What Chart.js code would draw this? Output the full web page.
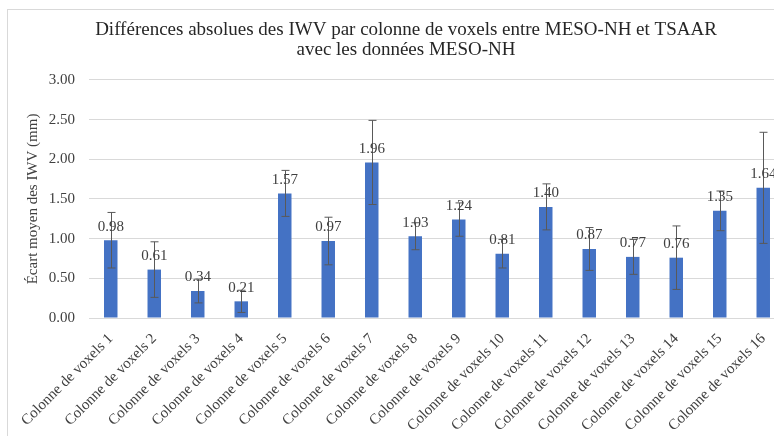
<!DOCTYPE html>
<html>
<head>
<meta charset="utf-8">
<script src="https://cdn.jsdelivr.net/npm/chart.js@4.4.0/dist/chart.umd.min.js"></script>
<style>
  html, body { margin: 0; padding: 0; background: #fff; overflow: hidden; width: 774px; height: 436px; }
  #frame { position: absolute; left: 7px; top: 9px; border: 1px solid #d9d9d9; width: 796px; height: 440px; }
  canvas { display: block; }
</style>
</head>
<body>
<div id="frame"><canvas id="ecart" width="796" height="430"></canvas></div>
<script>
let colonnes = [];
for (let i = 1; i <= 16; i++) {
    colonnes.push('Colonne de voxels ' + i);
}

// écart moyen par colonne (mm) et demi-largeur des barres d'erreur
var ecarts = [0.98, 0.61, 0.34, 0.21, 1.57, 0.97, 1.96, 1.03, 1.24, 0.81, 1.40, 0.87, 0.77, 0.76, 1.35, 1.64];
var erreurs = [0.35, 0.35, 0.15, 0.14, 0.29, 0.30, 0.53, 0.17, 0.21, 0.18, 0.29, 0.27, 0.22, 0.40, 0.25, 0.70];

var yTicks = [0, 0.5, 1, 1.5, 2, 2.5, 3];

var serif = "'Liberation Serif', 'Times New Roman', serif";

// barres d'erreur + étiquettes de valeur
const barExtras = {
    id: 'barExtras',
    afterDatasetsDraw(chart) {
        const c = chart.ctx;
        const y = chart.scales.y;
        const bars = chart.getDatasetMeta(0).data;
        c.save();
        c.strokeStyle = '#595959';
        c.lineWidth = 1;
        bars.forEach((bar, i) => {
            let x = Math.round(bar.x) + 0.5;
            let top = y.getPixelForValue(ecarts[i] + erreurs[i]);
            let bot = y.getPixelForValue(ecarts[i] - erreurs[i]);
            c.beginPath();
            c.moveTo(x, top); c.lineTo(x, bot);
            c.moveTo(x - 4, top); c.lineTo(x + 4, top);
            c.moveTo(x - 4, bot); c.lineTo(x + 4, bot);
            c.stroke();
        });
        c.fillStyle = '#404040';
        c.font = '15px ' + serif;
        c.textAlign = 'center';
        c.textBaseline = 'bottom';
        bars.forEach((bar, i) => {
            c.fillText(ecarts[i].toFixed(2), bar.x, bar.y - 6);
        });
        c.restore();
    }
};

var ctx = document.getElementById('ecart');
var chart = new Chart(ctx, {
    type: 'bar',
    data: {
        labels: colonnes,
        datasets: [{
            data: ecarts,
            backgroundColor: '#4472c4',
            borderWidth: 0,
            barPercentage: 0.31,
            categoryPercentage: 1
        }]
    },
    options: {
        responsive: false,
        animation: false,
        layout: {
            padding: { left: 19, right: 19, top: 0, bottom: 0 }
        },
        plugins: {
            legend: { display: false },
            tooltip: { enabled: false },
            title: {
                display: true,
                text: ['Différences absolues des IWV par colonne de voxels entre MESO-NH et TSAAR',
                       'avec les données MESO-NH'],
                color: '#262626',
                font: { family: serif, size: 19, weight: 'normal', lineHeight: 1.05 },
                padding: { top: 10, bottom: 20 }
            }
        },
        scales: {
            x: {
                grid: { display: false },
                border: { color: '#d9d9d9' },
                ticks: {
                    color: '#404040',
                    font: { family: serif, size: 15 },
                    minRotation: 45,
                    maxRotation: 45,
                    padding: 4
                },
                afterFit: function (scale) {
                    scale.height = 430 - 308;
                }
            },
            y: {
                min: 0,
                max: 3,
                afterBuildTicks: function (scale) {
                    scale.ticks = yTicks.map(v => ({ value: v }));
                },
                border: { display: false },
                grid: { color: '#d9d9d9', drawTicks: false },
                ticks: {
                    color: '#404040',
                    font: { family: serif, size: 15 },
                    padding: 14,
                    callback: v => v.toFixed(2)
                },
                title: {
                    display: true,
                    text: 'Écart moyen des IWV (mm)',
                    color: '#404040',
                    font: { family: serif, size: 15 },
                    padding: { top: -3, bottom: 4 }
                },
                afterFit: function (scale) {
                    scale.width = 62;
                }
            }
        }
    },
    plugins: [barExtras]
});
</script>
</body>
</html>
